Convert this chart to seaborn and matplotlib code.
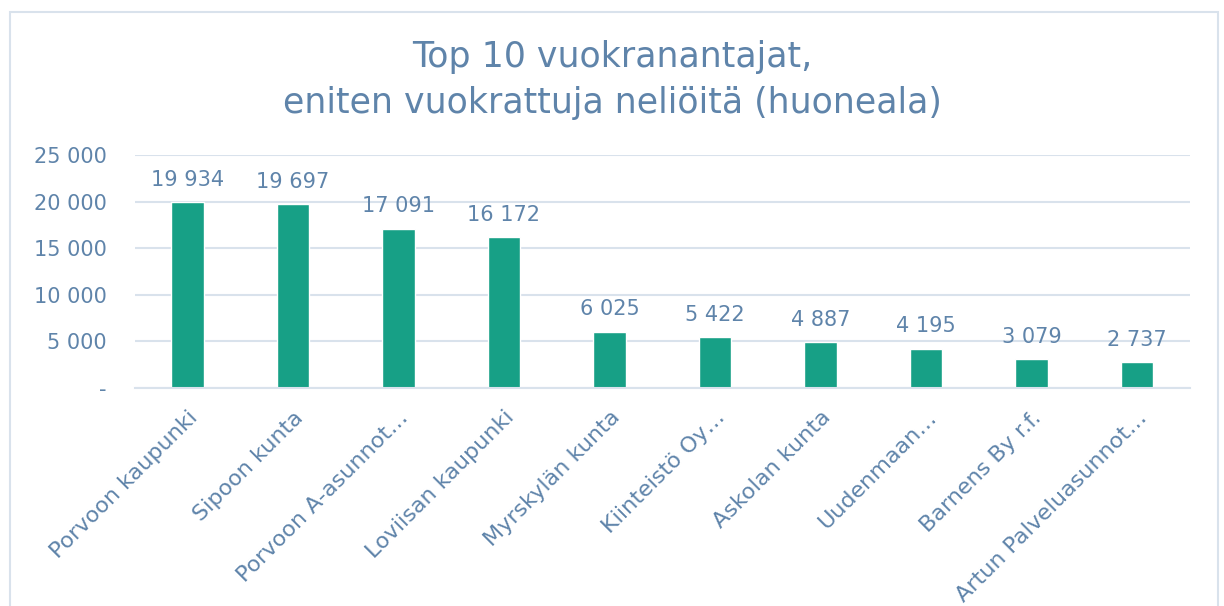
import pandas as pd
import seaborn as sns
import matplotlib.pyplot as plt
from matplotlib.patches import Rectangle

landlords = ["Porvoon kaupunki", "Sipoon kunta", "Porvoon A-asunnot…", "Loviisan kaupunki",
             "Myrskylän kunta", "Kiinteistö Oy…", "Askolan kunta", "Uudenmaan…",
             "Barnens By r.f.", "Artun Palveluasunnot…"]
area = [19934, 19697, 17091, 16172, 6025, 5422, 4887, 4195, 3079, 2737]
yticks = [0, 5000, 10000, 15000, 20000, 25000]

text_col = "#5f84aa"
bar_col = "#17a086"
grid_col = "#d9e2ec"

def fmt(v):
    if v == 0:
        return "-"
    return f"{v:,}".replace(",", " ")

sns.set_theme(style="white")
plt.rcParams["font.family"] = ["DejaVu Sans"]

df = pd.DataFrame({"name": landlords, "area": area})

fig = plt.figure(figsize=(12.24, 6.06), dpi=100)
ax = fig.add_axes([0.110, 0.360, 0.862, 0.384])

sns.barplot(data=df, x="name", y="area", color=bar_col, width=0.31, saturation=1, ax=ax)

ax.set_ylim(0, 25000)
ax.set_yticks(yticks)
ax.set_yticklabels([fmt(v) for v in yticks], color=text_col, fontsize=15)
ax.set_xticks(range(len(landlords)))
ax.set_xticklabels(landlords, rotation=45, ha="right", rotation_mode="anchor",
                   color=text_col, fontsize=16)
ax.tick_params(axis="y", length=0, pad=20)
ax.tick_params(axis="x", length=0, pad=14)
ax.set_xlabel("")
ax.set_ylabel("")

ax.yaxis.grid(True, color=grid_col, linewidth=1.5)
ax.set_axisbelow(True)
for s in ["top", "right", "left"]:
    ax.spines[s].set_visible(False)
ax.spines["bottom"].set_color(grid_col)
ax.spines["bottom"].set_linewidth(1.5)

for i, v in enumerate(area):
    ax.annotate(fmt(v), (i, v), xytext=(0, 9), textcoords="offset points",
                ha="center", va="bottom", color=text_col, fontsize=15)

fig.text(0.5, 0.868, "Top 10 vuokranantajat,\neniten vuokrattuja neliöitä (huoneala)",
         ha="center", va="center", color=text_col, fontsize=25, linespacing=1.45)

fig.patches.append(Rectangle((10 / 1224, -0.05), 1208 / 1224, 1.03, transform=fig.transFigure,
                             fill=False, edgecolor=grid_col, linewidth=1.5))

fig.savefig("out.png", dpi=100, facecolor="white")
